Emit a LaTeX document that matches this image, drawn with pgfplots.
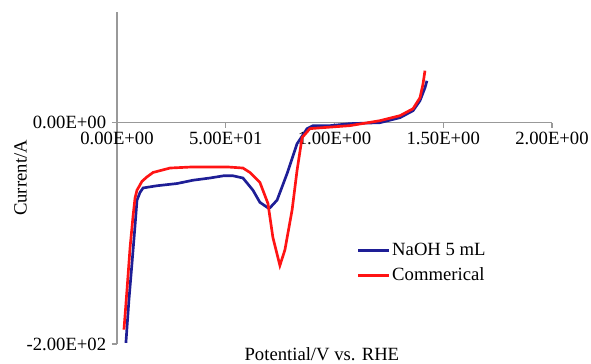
\documentclass[border=0pt]{standalone}
\usepackage{pgfplots}
\pgfplotsset{compat=1.18}
\usepackage{fontspec}
\setmainfont{Liberation Serif}
\definecolor{naohblue}{RGB}{30,30,150}
\definecolor{comred}{RGB}{255,20,20}
\begin{document}
\begin{tikzpicture}
\begin{axis}[
  at={(0,0)}, anchor=south west,
  scale only axis, width=261pt, height=199.2pt,
  xmin=0, xmax=2, ymin=-200, ymax=100,
  axis x line=middle, axis y line=left,
  hide obscured x ticks=false,
  every inner x axis line/.append style={-},
  every outer y axis line/.append style={-},
  axis line style={-, draw=gray!80, line width=0.9pt},
  tick style={draw=gray!80, line width=0.8pt},
  tick align=outside, major tick length=3pt,
  xtick={0,0.5,1,1.5,2},
  xticklabels={0.00E+00,5.00E+01,1.00E+00,1.50E+00,2.00E+00},
  ytick={-200,0},
  yticklabels={-2.00E+02,0.00E+00},
  ticklabel style={font=\fontsize{11.2}{13}\selectfont},
  xticklabel style={yshift=1pt},
  yticklabel style={xshift=0pt},
  xlabel={Potential/V vs. RHE},
  ylabel={Current/A},
  xlabel style={at={(axis description cs:0.471,0)}, anchor=north, inner sep=0pt, yshift=-2pt, font=\fontsize{11.2}{13}\selectfont},
  ylabel style={at={(axis description cs:-0.222,0.5)}, anchor=center, font=\fontsize{11.2}{13}\selectfont},
  legend cell align=left,
  legend style={draw=none, fill=none, inner sep=0pt, at={(axis cs:1.100,-107)}, anchor=north west,
    font=\fontsize{11.2}{13}\selectfont, row sep=4pt,
    nodes={inner sep=1pt}},
  legend image code/.code={\draw[#1, line width=1.8pt] (0pt,0pt) -- (18.6pt,0pt);},
]
\addplot[naohblue, line width=1.6pt] coordinates {
(0.041,-199) (0.055,-160) (0.069,-127) (0.083,-93) (0.092,-70) (0.106,-63)
(0.120,-59) (0.152,-58) (0.184,-57) (0.230,-56) (0.276,-55) (0.350,-52)
(0.428,-50) (0.490,-48) (0.533,-48) (0.579,-50) (0.625,-61) (0.657,-72)
(0.694,-77) (0.703,-77) (0.736,-70) (0.782,-46) (0.828,-19) (0.874,-5.4)
(0.901,-2.7) (0.979,-2.7) (1.071,-0.9) (1.209,0) (1.301,4.5) (1.361,10.8)
(1.393,19.8) (1.416,31.5) (1.425,37.8)
};
\addlegendentry{NaOH 5 mL}
\addplot[comred, line width=1.6pt] coordinates {
(0.032,-187) (0.046,-151) (0.060,-113) (0.074,-84) (0.083,-68) (0.092,-61)
(0.115,-53) (0.138,-49) (0.166,-45) (0.244,-41) (0.349,-40) (0.506,-40)
(0.579,-41) (0.611,-45) (0.657,-54) (0.694,-73) (0.717,-104) (0.749,-129)
(0.772,-115) (0.805,-79) (0.828,-43) (0.851,-13.5) (0.887,-5.4) (0.947,-4.5)
(1.071,-2.7) (1.209,1.8) (1.301,6.3) (1.361,12.6) (1.393,22.5) (1.407,35)
(1.416,47)
};
\addlegendentry{Commerical}
\end{axis}
\pgfresetboundingbox
\path[use as bounding box] (-70.2pt,-12pt) rectangle (284.4pt,206.4pt);
\end{tikzpicture}
\end{document}
